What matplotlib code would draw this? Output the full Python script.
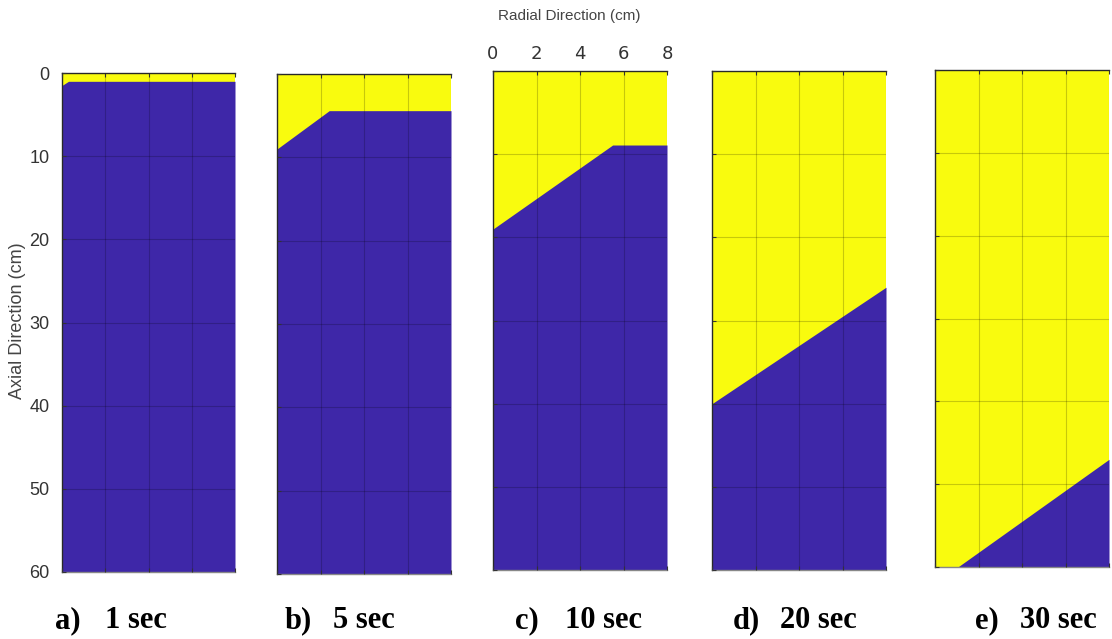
import matplotlib
matplotlib.use("Agg")
import matplotlib.pyplot as plt
import numpy as np

# Interface (front) between yellow (top) and blue (bottom) for each time
captions = ["a)", "b)", "c)", "d)", "e)"]
times = ["1 sec", "5 sec", "10 sec", "20 sec", "30 sec"]
front_r = [
    [0.0, 0.3, 8.0],
    [0.0, 2.4, 8.0],
    [0.0, 5.5, 8.0],
    [0.0, 8.0],
    [1.05, 8.0],
]
front_z = [
    [1.5, 1.0, 1.0],
    [9.0, 4.4, 4.4],
    [19.0, 8.9, 8.9],
    [40.0, 26.0],
    [60.0, 47.0],
]
x_ticks = [0, 2, 4, 6, 8]
y_ticks = [0, 10, 20, 30, 40, 50, 60]

YELLOW = "#F9FB0E"
BLUE = "#3E27A8"
SANS = "Liberation Sans"
SERIF = "Liberation Serif"

W, H = 1112, 639
fig = plt.figure(figsize=(W / 100, H / 100), dpi=100)

# pixel boxes: left, top, right, bottom
boxes = [
    (62, 73, 235, 572),
    (277, 74, 451, 574),
    (493, 71, 667, 570),
    (712, 71, 886, 570),
    (935, 70, 1109, 567),
]
cap_x = [55, 285, 515, 733, 975]
time_x = [105, 333, 565, 780, 1020]

for i, (l, t, r, b) in enumerate(boxes):
    ax = fig.add_axes([l / W, 1 - b / H, (r - l) / W, (b - t) / H])
    ax.set_facecolor(YELLOW)
    rr = np.array(front_r[i], dtype=float)
    zz = np.array(front_z[i], dtype=float)
    ax.fill_between(rr, zz, 60, color=BLUE, lw=0, zorder=1)
    ax.set_xlim(0, 8)
    ax.set_ylim(60, 0)
    ax.set_xticks(x_ticks)
    ax.set_yticks(y_ticks)
    ax.grid(True, color="black", alpha=0.2, lw=0.8, zorder=2)
    ax.set_axisbelow(False)
    ax.tick_params(direction="in", length=3, color="#333333", width=0.8,
                   top=True, bottom=True, left=True, right=False,
                   labelsize=13, labelcolor="#333333")
    for lab in ax.get_xticklabels() + ax.get_yticklabels():
        lab.set_family(SANS)
    ax.xaxis.set_ticks_position("both")
    if i == 2:
        ax.tick_params(labeltop=True, labelbottom=False, pad=6)
    else:
        ax.tick_params(labeltop=False, labelbottom=False)
    if i == 0:
        ax.tick_params(labelleft=True, pad=9)
    else:
        ax.tick_params(labelleft=False)
    for s in ["top", "left"]:
        ax.spines[s].set_color("#333333")
        ax.spines[s].set_linewidth(1.0)
    ax.spines["bottom"].set_color("#888888")
    ax.spines["bottom"].set_linewidth(1.0)
    ax.spines["right"].set_visible(False)

    fig.text(cap_x[i] / W, 1 - 621 / H, captions[i], fontsize=22,
             fontweight="bold", family=SERIF, va="center", ha="left")
    fig.text(time_x[i] / W, 1 - 621 / H, times[i], fontsize=22,
             fontweight="bold", family=SERIF, va="center", ha="left")

fig.text(569 / W, 1 - 16 / H, "Radial Direction (cm)", fontsize=11,
         family=SANS, color="#444444", ha="center", va="center")
fig.text(18 / W, 1 - 321 / H, "Axial Direction (cm)", fontsize=13,
         family=SANS, color="#444444", ha="center", va="center",
         rotation=90)

fig.savefig("out.png", dpi=100, facecolor="white")
